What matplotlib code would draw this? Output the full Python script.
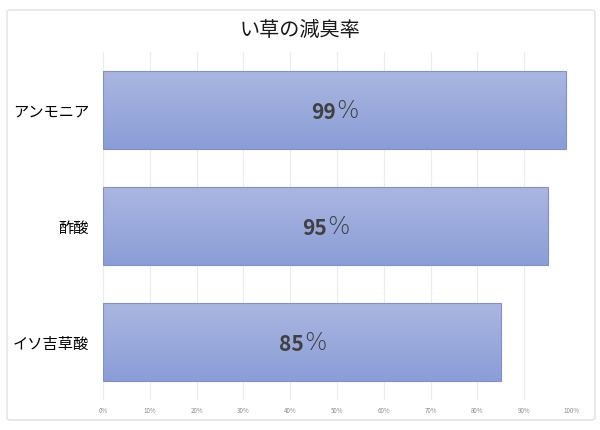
import matplotlib
matplotlib.use("Agg")
import matplotlib.pyplot as plt
import numpy as np
from matplotlib.colors import LinearSegmentedColormap
from matplotlib.patches import FancyBboxPatch

plt.rcParams['font.family'] = ['Noto Sans CJK JP', 'DejaVu Sans']

title = "い草の減臭率"
categories = ["アンモニア", "酢酸", "イソ吉草酸"]
values = [99, 95, 85]
xticks = [0, 10, 20, 30, 40, 50, 60, 70, 80, 90, 100]
xticklabels = [f"{t}%" for t in xticks]

fig = plt.figure(figsize=(6, 4.3), dpi=100)
fig.patch.set_facecolor("white")

# outer chart border
border = FancyBboxPatch((7/600, 1 - 420/430), 588/600, 410/430,
                        boxstyle="round,pad=0,rounding_size=0.005",
                        transform=fig.transFigure, facecolor="none",
                        edgecolor="#d9d9d9", linewidth=0.8, zorder=-1)
fig.patches.append(border)

ax = fig.add_axes([103/600, 1 - 400/430, 468/600, 348/430])
ax.set_facecolor("none")
ypos = np.arange(len(categories))
bars = ax.barh(ypos, values, height=0.68, color="none", edgecolor="#7f91cc",
               linewidth=0.8, zorder=3)

cmap = LinearSegmentedColormap.from_list("g", ["#abb7e1", "#8a9dd7"])
grad = np.linspace(0, 1, 256).reshape(-1, 1)
for b in bars:
    x0, y0, w, h = b.get_x(), b.get_y(), b.get_width(), b.get_height()
    im = ax.imshow(grad, cmap=cmap, aspect="auto",
                   extent=(x0, x0 + w, y0 + h, y0), zorder=2,
                   interpolation="bilinear")
    im.set_clip_path(b)

ax.set_xlim(0, 100)
ax.set_ylim(len(categories) - 0.5, -0.5)
ax.set_xticks(xticks)
ax.set_xticklabels(xticklabels, fontsize=4.5, color="#8c8c8c")
ax.set_yticks(ypos)
ax.set_yticklabels(categories, fontsize=11, color="#000000")
ax.tick_params(axis="both", length=0)
ax.tick_params(axis="x", pad=5)
ax.tick_params(axis="y", pad=10)
ax.grid(axis="x", color="#ebebeb", linewidth=0.8, zorder=1)
for s in ax.spines.values():
    s.set_visible(False)

for b, v in zip(bars, values):
    cx = b.get_x() + b.get_width() / 2
    cy = b.get_y() + b.get_height() / 2
    ax.annotate(f"{v}", (cx, cy), xytext=(1, -1.5), textcoords="offset points",
                ha="right", va="center", fontsize=15, fontweight="bold",
                color="#404040", zorder=4)
    ax.annotate("%", (cx, cy), xytext=(1.5, -0.5), textcoords="offset points",
                ha="left", va="center", fontsize=17, fontweight="light",
                color="#404040", zorder=4, family="DejaVu Sans")

fig.text(0.5, 1 - 30/430, title, ha="center", va="center", fontsize=14.5,
         color="#1a1a1a")

fig.savefig("out.png", dpi=100, facecolor="white")
